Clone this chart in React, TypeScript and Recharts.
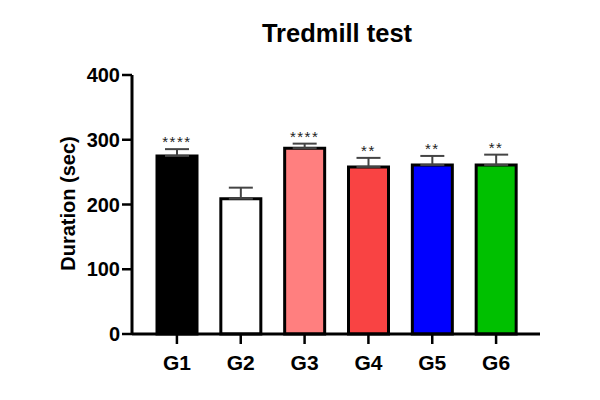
import React from 'react';
import {
  ComposedChart,
  Bar,
  Cell,
  ErrorBar,
  Line,
  LabelList,
  XAxis,
  YAxis,
} from 'recharts';

const groups = ['G1', 'G2', 'G3', 'G4', 'G5', 'G6'];
const durations = [275, 209, 287, 258, 261, 261];
const sems = [10.5, 17, 7, 14, 14, 16];
const marks = ['****', '', '****', '**', '**', '**'];
const fills = ['#000000', '#ffffff', '#ff7f7f', '#f94343', '#0000ff', '#00c000'];
const yTicks = [0, 100, 200, 300, 400];

const FONT = '"Liberation Sans", Arial, sans-serif';

const data = groups.map((g, i) => ({
  group: g,
  duration: durations[i],
  err: [0, sems[i]],
  upper: durations[i] + sems[i],
  mark: marks[i],
}));

function YLabel(props: any) {
  const { viewBox } = props;
  const x = viewBox.x + 48;
  const y = viewBox.y + viewBox.height / 2 - 1;
  return (
    <text
      x={x}
      y={y}
      transform={`rotate(-90 ${x} ${y})`}
      textAnchor="middle"
      dominantBaseline="central"
      fontFamily={FONT}
      fontWeight="bold"
      fontSize={20}
      fill="#000"
    >
      Duration (sec)
    </text>
  );
}

export default function App() {
  return (
    <div style={{ position: 'absolute', left: 0, top: 0, width: 600, height: 400, background: '#fff' }}>
      {/* title */}
      <div
        style={{
          position: 'absolute',
          left: 337,
          top: 19,
          transform: 'translateX(-50%)',
          fontFamily: FONT,
          fontWeight: 'bold',
          fontSize: 25.5,
          whiteSpace: 'nowrap',
        }}
      >
        Tredmill test
      </div>

      <ComposedChart
        width={600}
        height={400}
        data={data}
        margin={{ top: 75, right: 60, bottom: 21, left: 20 }}
      >
        <XAxis
          dataKey="group"
          padding={{ left: 13, right: 12 }}
          height={45}
          tickSize={10}
          tickMargin={11}
          axisLine={{ stroke: '#000', strokeWidth: 3 }}
          tickLine={{ stroke: '#000', strokeWidth: 2.5 }}
          tick={{ fill: '#000', fontSize: 21, fontWeight: 'bold', fontFamily: FONT }}
        />
        <YAxis
          width={112}
          domain={[0, 400]}
          ticks={yTicks}
          tickSize={10}
          tickMargin={2}
          axisLine={{ stroke: '#000', strokeWidth: 3 }}
          tickLine={{ stroke: '#000', strokeWidth: 2.5 }}
          tick={{ fill: '#000', fontSize: 20, fontWeight: 'bold', fontFamily: FONT }}
          label={YLabel}
        />
        <Bar
          dataKey="duration"
          barSize={40}
          stroke="#000"
          strokeWidth={3}
          isAnimationActive={false}
        >
          {data.map((d, i) => (
            <Cell key={d.group} fill={fills[i]} />
          ))}
          <ErrorBar dataKey="err" direction="y" width={12} stroke="#444" strokeWidth={2} />
        </Bar>
        <Line
          dataKey="upper"
          stroke="none"
          dot={false}
          activeDot={false}
          isAnimationActive={false}
        >
          <LabelList
            dataKey="mark"
            position="top"
            offset={2}
            fill="#222"
            fontSize={15}
            fontFamily={FONT}
            letterSpacing={1.5}
          />
        </Line>
      </ComposedChart>
    </div>
  );
}
